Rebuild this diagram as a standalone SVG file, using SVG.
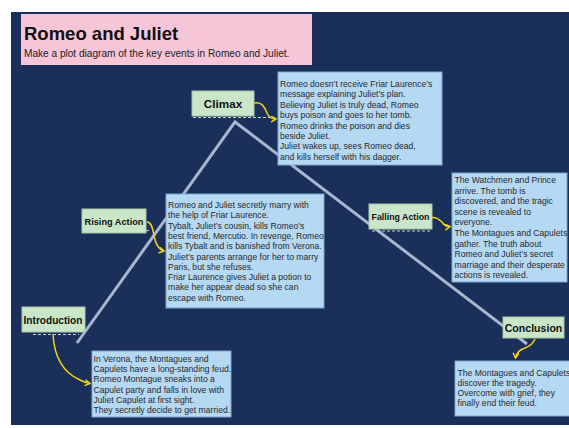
<svg xmlns="http://www.w3.org/2000/svg" width="569" height="428" viewBox="0 0 569 428">
<defs>
<style>
.bg{fill:#1a2f59}
.info{fill:#b5d8f3;stroke:#7ea7cf;stroke-width:1}
.lbl{fill:#c9e6c9;stroke:#a8c8a8;stroke-width:1}
.lt{font-family:"Liberation Sans",Arial,sans-serif;font-weight:bold;fill:#111;text-anchor:middle}
.bt{font-family:"Liberation Sans",Arial,sans-serif;font-size:8.6px;fill:#2a2a2a}
.dash{stroke:#c8d2e4;stroke-width:1;stroke-dasharray:3,2;fill:none}
.arr{stroke:#f2d21b;stroke-width:1.5;fill:none;marker-end:url(#ah)}
</style>
<marker id="ah" markerWidth="8" markerHeight="8" refX="5.5" refY="3.5" orient="auto" markerUnits="userSpaceOnUse">
<path d="M0.5,0.5 L5.5,3.5 L0.5,6.5" fill="none" stroke="#f2d21b" stroke-width="1.5"/>
</marker>
</defs>
<rect class="bg" x="11" y="12" width="558" height="413"/>
<g id="title">
<rect x="21" y="14" width="291" height="51" fill="#f6c5d8"/>
<text x="24" y="40" font-family="'Liberation Sans',Arial,sans-serif" font-weight="bold" font-size="18.5" fill="#111">Romeo and Juliet</text>
<text x="24" y="57" font-family="'Liberation Sans',Arial,sans-serif" font-size="10.1" fill="#222">Make a plot diagram of the key events in Romeo and Juliet.</text>
</g>
<g id="connectors">
<polyline points="77,343 235,122 527,344" fill="none" stroke="#a9b6cf" stroke-width="3"/>
</g>
<g id="climax-info">
<rect class="info" x="278" y="72" width="164" height="93"/>
<text class="bt" font-size="9"><tspan x="280" y="87">Romeo doesn&#8217;t receive Friar Laurence&#8217;s</tspan><tspan x="280" y="97.4">message explaining Juliet&#8217;s plan.</tspan><tspan x="280" y="107.8">Believing Juliet is truly dead, Romeo</tspan><tspan x="280" y="118.2">buys poison and goes to her tomb.</tspan><tspan x="280" y="128.6">Romeo drinks the poison and dies</tspan><tspan x="280" y="139">beside Juliet.</tspan><tspan x="280" y="149.4">Juliet wakes up, sees Romeo dead,</tspan><tspan x="280" y="159.8">and kills herself with his dagger.</tspan></text>
</g>
<g id="rising-info">
<rect class="info" x="166" y="194" width="158" height="114"/>
<text class="bt"><tspan x="168" y="208">Romeo and Juliet secretly marry with</tspan><tspan x="168" y="218.3">the help of Friar Laurence.</tspan><tspan x="168" y="228.6">Tybalt, Juliet&#8217;s cousin, kills Romeo&#8217;s</tspan><tspan x="168" y="238.9">best friend, Mercutio. In revenge, Romeo</tspan><tspan x="168" y="249.2">kills Tybalt and is banished from Verona.</tspan><tspan x="168" y="259.5">Juliet&#8217;s parents arrange for her to marry</tspan><tspan x="168" y="269.8">Paris, but she refuses.</tspan><tspan x="168" y="280.1">Friar Laurence gives Juliet a potion to</tspan><tspan x="168" y="290.4">make her appear dead so she can</tspan><tspan x="168" y="300.7">escape with Romeo.</tspan></text>
</g>
<g id="intro-info">
<rect class="info" x="92" y="351" width="139" height="66"/>
<text class="bt"><tspan x="93.5" y="361.7">In Verona, the Montagues and</tspan><tspan x="93.5" y="372">Capulets have a long-standing feud.</tspan><tspan x="93.5" y="382.3">Romeo Montague sneaks into a</tspan><tspan x="93.5" y="392.6">Capulet party and falls in love with</tspan><tspan x="93.5" y="402.9">Juliet Capulet at first sight.</tspan><tspan x="93.5" y="413.2">They secretly decide to get married.</tspan></text>
</g>
<g id="falling-info">
<rect class="info" x="452" y="173" width="115" height="109"/>
<text class="bt"><tspan x="454.5" y="183">The Watchmen and Prince</tspan><tspan x="454.5" y="193.6">arrive. The tomb is</tspan><tspan x="454.5" y="204.2">discovered, and the tragic</tspan><tspan x="454.5" y="214.8">scene is revealed to</tspan><tspan x="454.5" y="225.4">everyone.</tspan><tspan x="454.5" y="236">The Montagues and Capulets</tspan><tspan x="454.5" y="246.6">gather. The truth about</tspan><tspan x="454.5" y="257.2">Romeo and Juliet&#8217;s secret</tspan><tspan x="454.5" y="267.8">marriage and their desperate</tspan><tspan x="454.5" y="278.4">actions is revealed.</tspan></text>
</g>
<g id="conclusion-info">
<rect class="info" x="455" y="361" width="120" height="55"/>
<text class="bt" font-size="9"><tspan x="457.5" y="375.5">The Montagues and Capulets</tspan><tspan x="457.5" y="385.5">discover the tragedy.</tspan><tspan x="457.5" y="395.5">Overcome with grief, they</tspan><tspan x="457.5" y="405.5">finally end their feud.</tspan></text>
</g>
<g id="climax">
<rect class="lbl" x="192" y="91" width="62" height="25"/>
<text class="lt" x="223" y="107.5" font-size="11.7">Climax</text>
</g>
<g id="rising-action">
<rect class="lbl" x="82" y="209" width="64" height="24"/>
<text class="lt" x="114" y="225" font-size="9.2">Rising Action</text>
</g>
<g id="introduction">
<rect class="lbl" x="22" y="307" width="63" height="25"/>
<text class="lt" x="53" y="323.5" font-size="10.1">Introduction</text>
</g>
<g id="falling-action">
<rect class="lbl" x="369" y="204" width="63" height="25"/>
<text class="lt" x="400.5" y="220" font-size="8.8">Falling Action</text>
</g>
<g id="conclusion">
<rect class="lbl" x="503" y="317" width="61" height="21"/>
<text class="lt" x="533.5" y="331.5" font-size="10.6">Conclusion</text>
</g>
<g id="arrows">
<line class="dash" x1="193" y1="117.5" x2="275" y2="117.5"/>
<line class="dash" x1="33" y1="334.5" x2="79" y2="334.5"/>
<line class="dash" x1="372" y1="231" x2="430" y2="231"/>
<line class="dash" x1="146" y1="230.5" x2="151" y2="230.5"/>
<path class="arr" d="M254,103 C262,101 265,108 267,113 C269,118 272,119 276,119"/>
<path class="arr" d="M147,222 C152,222 153,230 154,236 C156,245 159,250 164,251"/>
<path class="arr" d="M53,334 C54,355 62,372 80,380 C84,382 87,383 90,383.5"/>
<path class="arr" d="M432,217.5 C437,217 440,220 442,222 C444,225 446,227 450,226.5"/>
<path class="arr" d="M535,339 C533,344 530,346 525,348 C519,350 516,353 515.5,358"/>
</g>
</svg>
